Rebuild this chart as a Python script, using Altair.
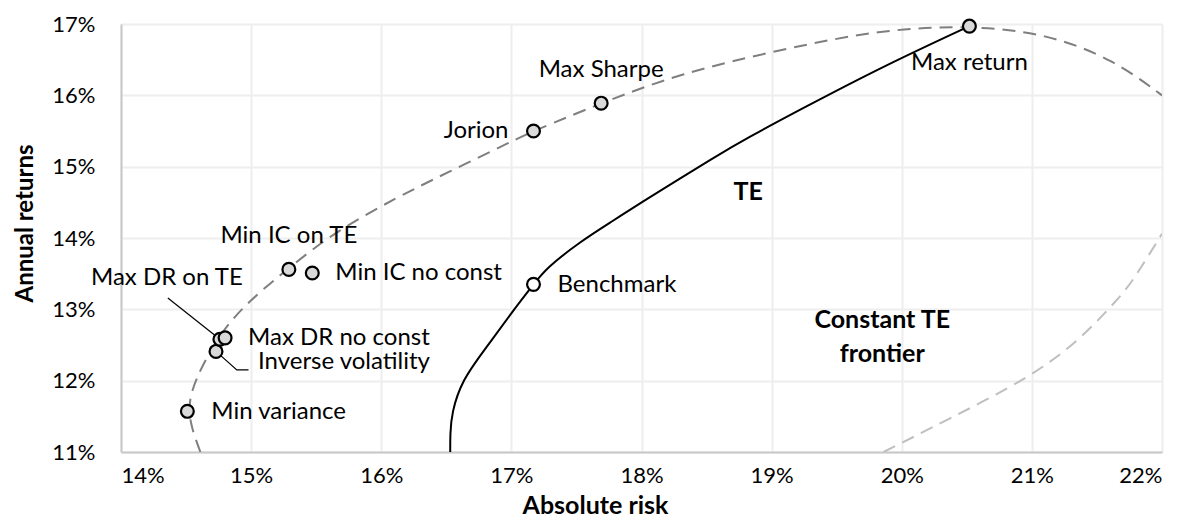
import altair as alt
import pandas as pd

# ---------------- data (percent units) ----------------
names = ["Min variance", "Inverse volatility", "Max DR on TE", "Max DR no const",
         "Min IC on TE", "Min IC no const", "Jorion", "Max Sharpe",
         "Benchmark", "Max return"]
risk = [14.51, 14.73, 14.76, 14.80, 15.29, 15.47, 17.17, 17.69, 17.17, 20.52]
ret = [11.57, 12.41, 12.58, 12.60, 13.56, 13.51, 15.50, 15.89, 13.35, 16.97]

# TE frontier (solid black)
te_risk = [16.53, 16.53, 16.54, 16.62, 16.81, 17.00, 17.17, 17.27, 17.53, 17.78,
           18.00, 18.30, 18.55, 18.81, 19.22, 19.85, 20.52]
te_ret = [11.00, 11.25, 11.54, 12.01, 12.47, 12.95, 13.35, 13.58, 13.95, 14.24,
          14.50, 14.84, 15.12, 15.40, 15.80, 16.40, 16.97]

# Constant TE frontier, upper part (dark dashed)
ell_risk = [14.61, 14.54, 14.52, 14.54, 14.62, 14.78, 14.99, 15.29, 15.63, 16.12,
            16.50, 17.02, 17.17, 17.69, 18.30, 19.07, 19.83, 20.52, 21.11, 21.63, 22.00]
ell_ret = [11.00, 11.35, 11.60, 11.85, 12.20, 12.71, 13.13, 13.58, 14.07, 14.57,
           14.91, 15.37, 15.50, 15.89, 16.31, 16.64, 16.92, 16.98, 16.87, 16.50, 16.00]

# Constant TE frontier, lower part (light dashed)
low_risk = [19.86, 20.35, 20.99, 21.37, 21.68, 21.78, 22.00]
low_ret = [11.00, 11.45, 12.05, 12.57, 13.18, 13.41, 14.06]

# leader lines (label connectors)
lead_group = ["Max DR on TE", "Max DR on TE", "Inverse volatility", "Inverse volatility", "Inverse volatility"]
lead_risk = [14.76, 14.36, 14.73, 14.89, 14.98]
lead_ret = [12.58, 13.16, 12.41, 12.15, 12.15]

# free text annotations
note_text = ["TE", "Constant TE", "frontier"]
note_risk = [18.82, 19.85, 19.85]
note_ret = [14.64, 12.85, 12.37]

x_ticks = [14, 15, 16, 17, 18, 19, 20, 21, 22]
y_ticks = [11, 12, 13, 14, 15, 16, 17]

# ---------------- styles ----------------
FONT = "Lato"
FS = 24
NOTE_FS = 25
white_points = ["Benchmark"]
label_style = {
    "Max return": dict(align="center", dx=0, dy=37),
    "Max Sharpe": dict(align="center", dx=0, dy=-33),
    "Jorion": dict(align="right", dx=-25, dy=0),
    "Benchmark": dict(align="left", dx=24, dy=1),
    "Min IC on TE": dict(align="center", dx=0, dy=-33),
    "Min IC no const": dict(align="left", dx=23, dy=0),
    "Max DR on TE": dict(align="center", dx=-53, dy=-61),
    "Max DR no const": dict(align="left", dx=23, dy=0),
    "Inverse volatility": dict(align="left", dx=42, dy=11),
    "Min variance": dict(align="left", dx=24, dy=1),
}

pts = pd.DataFrame({"name": names, "risk": risk, "ret": ret})
pts["fill"] = ["white" if n in white_points else "gray" for n in names]
te = pd.DataFrame({"risk": te_risk, "ret": te_ret, "o": range(len(te_risk))})
ell = pd.DataFrame({"risk": ell_risk, "ret": ell_ret, "o": range(len(ell_risk))})
low = pd.DataFrame({"risk": low_risk, "ret": low_ret, "o": range(len(low_risk))})
lead = pd.DataFrame({"g": lead_group, "risk": lead_risk, "ret": lead_ret, "o": range(len(lead_risk))})
notes = pd.DataFrame({"t": note_text, "risk": note_risk, "ret": note_ret})

xs = alt.Scale(domain=[14, 22], nice=False, zero=False)
ys = alt.Scale(domain=[11, 17], nice=False, zero=False)

X = alt.X("risk:Q", scale=xs, axis=alt.Axis(
    values=x_ticks, labelExpr="datum.value + '%'", title="Absolute risk",
    titleX=474, titleY=61, titleBaseline="alphabetic", titleAnchor="start",
    titleAlign="center", labelPadding=13))
Y = alt.Y("ret:Q", scale=ys, axis=alt.Axis(
    values=y_ticks, labelExpr="datum.value + '%'", title="Annual returns",
    titleX=-89, titleY=199, titleAngle=-90, titleBaseline="alphabetic",
    titleAnchor="start", titleAlign="center", labelPadding=26, titleFontSize=24))

xq = alt.X("risk:Q", scale=xs)
yq = alt.Y("ret:Q", scale=ys)

te_line = alt.Chart(te).mark_line(color="black", strokeWidth=2, interpolate="basis", clip=True).encode(
    x=X, y=Y, order="o:Q")
ell_line = alt.Chart(ell).mark_line(color="#7f7f7f", strokeWidth=2, strokeDash=[13, 8],
                                    interpolate="basis", clip=True).encode(x=xq, y=yq, order="o:Q")
low_line = alt.Chart(low).mark_line(color="#bfbfbf", strokeWidth=2, strokeDash=[13, 8],
                                    interpolate="basis", clip=True).encode(x=xq, y=yq, order="o:Q")
lead_line = alt.Chart(lead).mark_line(color="black", strokeWidth=1.2).encode(
    x=xq, y=yq, detail="g:N", order="o:Q")

points = alt.Chart(pts).mark_point(shape="circle", size=165, filled=False, stroke="black",
                                   strokeWidth=2.2, opacity=1).encode(
    x=xq, y=yq,
    fill=alt.Fill("fill:N", scale=alt.Scale(domain=["gray", "white"], range=["#d9d9d9", "#ffffff"]), legend=None),
    fillOpacity=alt.value(1))

layers = [low_line, ell_line, te_line, lead_line, points]
for n, st in label_style.items():
    layers.append(
        alt.Chart(pts).transform_filter(alt.datum.name == n).mark_text(
            font=FONT, fontSize=FS, color="black", baseline="middle", **st).encode(
            x=xq, y=yq, text="name:N"))

layers.append(alt.Chart(notes).mark_text(font=FONT, fontSize=NOTE_FS, fontWeight="bold", color="black",
                                         align="center", baseline="middle").encode(
    x=xq, y=yq, text="t:N"))

chart = alt.layer(*layers).properties(
    width=1041, height=428,
    autosize=alt.AutoSizeParams(type="none"),
    padding={"left": 113, "top": 16, "right": 24, "bottom": 65},
    background="white",
).configure_view(stroke=None).configure_axis(
    labelFont=FONT, labelFontSize=22, labelColor="black",
    titleFont=FONT, titleFontSize=25, titleFontWeight="bold", titleColor="black",
    grid=True, gridColor="#eeeeee", gridWidth=2,
    domainColor="#c8c8c8", domainWidth=2, ticks=False, tickSize=0,
)

chart.save("out.html", embed_options={"renderer": "svg", "actions": False})
